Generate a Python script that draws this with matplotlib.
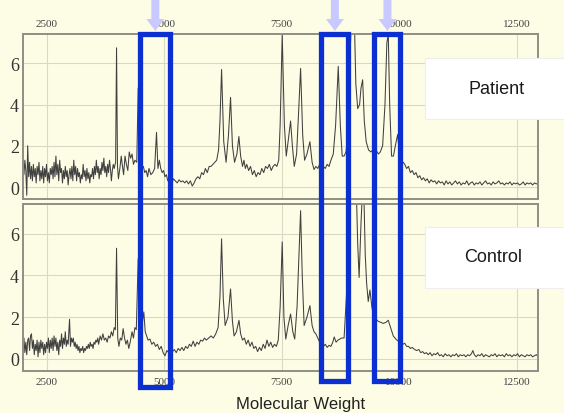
import matplotlib
matplotlib.use("Agg")
import matplotlib.pyplot as plt
from matplotlib.patches import Rectangle, Polygon
from matplotlib.transforms import blended_transform_factory

W, H = 564, 414
BG = "#fdfce5"
BLUE = "#0b2fd0"
ARROW = "#c8caff"

# (molecular weight, intensity)
patient = [
    (2000, 1.1), (2020, 0.6), (2040, 1.3), (2060, 0.8), (2080, -0.4), (2100, 2.0),
    (2120, 0.5), (2140, 1.2), (2160, 0.4), (2180, 1.0), (2200, 0.3), (2220, 1.1),
    (2240, 0.5), (2260, 0.9), (2280, 0.2), (2300, 1.0), (2320, 0.6), (2340, 1.2),
    (2360, 0.3), (2380, 0.8), (2400, 0.4), (2420, 1.0), (2440, 0.2), (2460, 0.9),
    (2480, 0.5), (2500, 1.1), (2520, 0.3), (2540, 0.7), (2560, 0.2), (2580, 0.9),
    (2600, 0.6), (2620, 1.0), (2640, 0.4), (2660, 1.2), (2680, 0.5), (2700, 1.5),
    (2720, 0.6), (2740, 1.1), (2760, 0.3), (2780, 1.3), (2800, 0.7), (2820, 0.9),
    (2840, 0.2), (2860, 0.8), (2880, 0.4), (2900, 1.0), (2920, 0.5), (2940, 0.8),
    (2960, 0.1), (2980, 0.6), (3000, 0.9), (3020, 0.4), (3040, 1.0), (3060, 0.3),
    (3080, 1.3), (3100, 0.6), (3120, 1.0), (3140, 0.3), (3160, 0.9), (3180, 0.5),
    (3200, 0.7), (3220, 0.2), (3240, 0.6), (3260, 0.4), (3280, 1.1), (3300, 0.5),
    (3320, 0.8), (3340, 0.3), (3360, 0.9), (3380, 0.4), (3400, 0.7), (3420, 0.2),
    (3440, 0.6), (3460, 0.5), (3480, 0.9), (3500, 0.4), (3520, 1.0), (3540, 0.6),
    (3560, 1.3), (3580, 0.7), (3600, 1.0), (3620, 0.4), (3640, 0.9), (3660, 0.6),
    (3680, 1.2), (3700, 0.8), (3720, 1.4), (3740, 0.7), (3760, 1.0), (3780, 0.5),
    (3800, 1.1), (3820, 0.7), (3840, 1.3), (3860, 0.9), (3880, 0.3), (3900, 0.8),
    (3920, 1.1), (3940, 0.9), (3970, 1.2), (3990, 6.75), (4010, 1.0), (4030, 0.4),
    (4060, 0.9), (4090, 1.5), (4110, 1.1), (4140, 0.6), (4170, 1.5), (4200, 1.1),
    (4230, 0.8), (4260, 1.7), (4290, 1.4), (4320, 1.6), (4350, 1.1), (4380, 1.3),
    (4420, 1.2), (4450, 4.8), (4475, 1.2), (4500, 1.1), (4530, 0.9), (4560, 1.0),
    (4590, 0.7), (4620, 0.8), (4650, 0.5), (4680, 0.9), (4720, 0.6), (4760, 0.7),
    (4800, 0.9), (4840, 2.65), (4870, 0.9), (4900, 1.3), (4930, 0.9), (4960, 0.7),
    (4990, 0.8), (5020, 0.5), (5050, 0.6), (5080, 0.3), (5110, 0.5), (5140, 0.4),
    (5170, 0.2), (5200, 0.4), (5240, 0.3), (5280, 0.2), (5320, 0.35), (5360, 0.25),
    (5400, 0.3), (5440, 0.2), (5480, 0.3), (5520, 0.15), (5560, 0.3), (5600, 0.05),
    (5640, 0.2), (5680, 0.4), (5720, 0.5), (5760, 0.4), (5800, 0.7), (5840, 0.6),
    (5880, 0.9), (5920, 0.7), (5960, 1.0), (6000, 1.0), (6040, 1.1), (6080, 1.2),
    (6120, 1.3), (6160, 1.8), (6190, 3.2), (6224, 5.7), (6270, 2.2), (6320, 1.2),
    (6370, 2.5), (6415, 4.35), (6455, 2.0), (6500, 1.2), (6550, 1.6), (6592, 2.45),
    (6630, 1.5), (6670, 1.0), (6700, 1.3), (6730, 0.9), (6760, 1.1), (6800, 0.8),
    (6840, 1.0), (6880, 0.6), (6920, 0.8), (6960, 0.5), (7000, 0.7), (7040, 0.6),
    (7080, 0.9), (7120, 0.7), (7160, 1.0), (7200, 0.9), (7240, 1.1), (7280, 0.8),
    (7320, 1.0), (7360, 1.1), (7400, 1.0), (7440, 1.3), (7470, 3.0), (7514, 7.4),
    (7560, 3.0), (7600, 1.5), (7650, 2.4), (7692, 3.2), (7730, 2.0), (7770, 1.0),
    (7820, 1.6), (7860, 3.5), (7905, 5.75), (7950, 2.5), (7990, 1.3), (8040, 1.6),
    (8103, 2.2), (8150, 1.2), (8190, 0.85), (8230, 1.0), (8270, 0.9), (8310, 1.1),
    (8350, 0.95), (8390, 1.0), (8430, 0.9), (8470, 1.1), (8510, 1.0), (8550, 1.3),
    (8600, 1.6), (8650, 3.0), (8706, 5.85), (8750, 3.0), (8790, 1.5), (8830, 1.5),
    (8870, 1.7), (8910, 2.5), (8950, 6.0), (9000, 9.0), (9040, 9.0), (9080, 5.0),
    (9120, 3.8), (9160, 4.0), (9190, 4.8), (9225, 5.2), (9260, 3.2), (9300, 2.2),
    (9350, 1.8), (9400, 1.7), (9440, 1.8), (9470, 1.6), (9520, 1.75), (9560, 1.6),
    (9600, 1.7), (9650, 2.0), (9700, 4.0), (9740, 7.0), (9770, 7.4), (9800, 4.0),
    (9840, 1.5), (9880, 1.5), (9920, 2.0), (9970, 2.55), (10010, 1.5), (10050, 1.1),
    (10090, 1.2), (10120, 1.1), (10160, 0.9), (10200, 1.0), (10240, 0.7), (10280, 0.8),
    (10320, 0.6), (10360, 0.7), (10400, 0.45), (10440, 0.55), (10480, 0.35), (10520, 0.45),
    (10560, 0.3), (10600, 0.4), (10640, 0.2), (10680, 0.35), (10720, 0.25), (10760, 0.3),
    (10800, 0.15), (10840, 0.3), (10880, 0.2), (10920, 0.25), (10960, 0.1), (11000, 0.3),
    (11040, 0.15), (11080, 0.25), (11120, 0.1), (11160, 0.2), (11200, 0.3), (11240, 0.15),
    (11280, 0.25), (11320, 0.1), (11360, 0.2), (11400, 0.15), (11440, 0.3), (11480, 0.1),
    (11520, 0.2), (11560, 0.25), (11600, 0.1), (11640, 0.2), (11680, 0.15), (11720, 0.25),
    (11760, 0.1), (11800, 0.2), (11840, 0.3), (11880, 0.15), (11920, 0.2), (11960, 0.1),
    (12000, 0.25), (12040, 0.15), (12080, 0.2), (12120, 0.3), (12160, 0.15), (12200, 0.2),
    (12240, 0.1), (12280, 0.2), (12320, 0.15), (12360, 0.25), (12400, 0.1), (12440, 0.2),
    (12480, 0.15), (12520, 0.2), (12560, 0.1), (12600, 0.15), (12640, 0.25), (12680, 0.1),
    (12720, 0.2), (12760, 0.15), (12800, 0.2), (12840, 0.1), (12880, 0.2), (12920, 0.15),
    (12960, 0.2),
]

control = [
    (2000, 0.6), (2020, 1.0), (2040, 0.3), (2060, 0.8), (2080, 0.2), (2100, 0.9),
    (2120, 1.0), (2140, 0.4), (2160, 1.1), (2180, 1.2), (2200, 0.5), (2220, 0.9),
    (2240, 0.2), (2260, 0.7), (2280, 0.4), (2300, 0.9), (2320, 0.1), (2340, 0.8),
    (2360, 0.3), (2380, 0.9), (2400, 0.5), (2420, 0.8), (2440, 0.2), (2460, 0.7),
    (2480, 0.3), (2500, 0.8), (2520, 0.5), (2540, 1.0), (2560, 0.3), (2580, 0.9),
    (2600, 0.5), (2620, 1.0), (2640, 0.4), (2660, 1.1), (2680, 0.6), (2700, 1.0),
    (2720, 0.4), (2740, 0.8), (2760, 0.2), (2780, 0.9), (2800, 0.6), (2820, 1.2),
    (2840, 0.5), (2860, 1.0), (2880, 0.7), (2900, 1.3), (2920, 0.6), (2940, 0.9),
    (2960, 0.7), (2990, 1.9), (3010, 0.6), (3030, 1.0), (3050, 0.8), (3070, 1.0),
    (3090, 0.6), (3110, 0.8), (3130, 0.5), (3150, 0.7), (3170, 0.4), (3190, 0.6),
    (3210, 0.3), (3230, 0.5), (3250, 0.4), (3270, 0.6), (3290, 0.3), (3310, 0.5),
    (3330, 0.4), (3350, 0.6), (3370, 0.5), (3390, 0.7), (3410, 0.5), (3430, 0.8),
    (3450, 0.6), (3470, 0.7), (3490, 0.5), (3510, 0.8), (3530, 0.7), (3550, 0.9),
    (3570, 0.8), (3590, 1.0), (3610, 0.7), (3640, 1.1), (3670, 0.9), (3700, 1.2),
    (3730, 0.9), (3760, 1.0), (3790, 0.8), (3820, 1.1), (3850, 1.0), (3880, 1.3),
    (3910, 1.1), (3940, 1.5), (3965, 1.4), (3990, 5.3), (4015, 1.0), (4040, 0.6),
    (4070, 1.0), (4100, 0.9), (4130, 1.45), (4160, 1.0), (4190, 0.7), (4220, 0.9),
    (4250, 0.5), (4280, 0.8), (4320, 1.3), (4350, 1.0), (4380, 1.5), (4410, 1.4),
    (4450, 4.8), (4480, 1.6), (4520, 1.4), (4570, 2.25), (4600, 1.3), (4630, 1.1),
    (4660, 0.9), (4700, 0.95), (4740, 0.7), (4780, 0.8), (4820, 0.6), (4860, 0.7),
    (4900, 0.45), (4940, 0.6), (4980, 0.3), (5020, 0.15), (5060, 0.4), (5100, 0.3),
    (5140, 0.5), (5180, 0.35), (5220, 0.45), (5260, 0.3), (5300, 0.5), (5340, 0.4),
    (5380, 0.55), (5420, 0.4), (5460, 0.6), (5500, 0.5), (5540, 0.7), (5580, 0.6),
    (5620, 0.85), (5660, 0.6), (5700, 0.8), (5740, 0.7), (5780, 0.9), (5820, 0.85),
    (5860, 1.0), (5900, 0.9), (5950, 1.0), (6000, 1.1), (6050, 1.0), (6100, 1.2),
    (6150, 1.5), (6190, 3.0), (6224, 5.75), (6260, 2.9), (6300, 1.6), (6360, 2.0),
    (6415, 3.35), (6455, 1.8), (6490, 1.1), (6540, 1.3), (6594, 1.85), (6630, 1.2),
    (6670, 0.9), (6710, 1.0), (6750, 0.7), (6790, 0.9), (6830, 0.6), (6870, 0.8),
    (6910, 0.5), (6950, 0.6), (6990, 0.35), (7030, 0.55), (7070, 0.4), (7110, 0.7),
    (7150, 0.5), (7190, 0.9), (7230, 0.6), (7270, 0.8), (7310, 0.55), (7350, 0.7),
    (7390, 0.6), (7430, 0.9), (7470, 2.5), (7514, 5.6), (7550, 2.0), (7590, 0.95),
    (7640, 1.6), (7692, 2.15), (7740, 1.3), (7780, 0.95), (7830, 2.5), (7870, 5.0),
    (7905, 7.1), (7940, 4.0), (7980, 1.6), (8040, 2.0), (8103, 2.55), (8150, 1.6),
    (8190, 1.3), (8230, 1.2), (8270, 1.0), (8310, 0.8), (8350, 0.65), (8390, 0.6),
    (8430, 0.7), (8470, 0.55), (8510, 0.65), (8550, 0.6), (8590, 0.8), (8620, 1.05),
    (8660, 0.8), (8700, 0.9), (8740, 0.95), (8780, 1.0), (8830, 1.0), (8880, 3.0),
    (8930, 6.0), (8980, 8.5), (9080, 9.0), (9120, 5.5), (9150, 3.9), (9190, 6.5),
    (9240, 9.0), (9280, 5.0), (9310, 3.6), (9344, 2.75), (9380, 3.3), (9420, 2.5),
    (9460, 2.0), (9510, 1.9), (9557, 1.8), (9610, 1.75), (9663, 1.7), (9720, 1.75),
    (9770, 1.85), (9820, 1.5), (9876, 1.1), (9930, 0.95), (9982, 0.85), (10030, 0.8),
    (10080, 0.7), (10120, 0.75), (10160, 0.6), (10200, 0.6), (10240, 0.5), (10280, 0.55),
    (10330, 0.45), (10373, 0.4), (10420, 0.45), (10460, 0.3), (10500, 0.35), (10540, 0.25),
    (10580, 0.3), (10620, 0.2), (10660, 0.3), (10700, 0.15), (10740, 0.25), (10780, 0.2),
    (10820, 0.3), (10860, 0.15), (10900, 0.2), (10940, 0.1), (10980, 0.25), (11020, 0.15),
    (11060, 0.2), (11100, 0.1), (11140, 0.2), (11180, 0.15), (11220, 0.25), (11260, 0.1),
    (11300, 0.2), (11340, 0.15), (11380, 0.2), (11420, 0.1), (11460, 0.2), (11500, 0.15),
    (11540, 0.25), (11570, 0.4), (11600, 0.2), (11640, 0.1), (11680, 0.2), (11720, 0.15),
    (11760, 0.25), (11800, 0.1), (11840, 0.2), (11880, 0.15), (11920, 0.1), (11960, 0.2),
    (12000, 0.15), (12040, 0.25), (12080, 0.1), (12120, 0.2), (12160, 0.15), (12200, 0.2),
    (12240, 0.1), (12280, 0.25), (12320, 0.15), (12360, 0.2), (12400, 0.1), (12440, 0.2),
    (12480, 0.15), (12520, 0.25), (12560, 0.1), (12600, 0.2), (12640, 0.15), (12680, 0.1),
    (12720, 0.2), (12760, 0.15), (12800, 0.2), (12840, 0.1), (12880, 0.15), (12920, 0.2),
    (12960, 0.1),
]

x_ticks = [2500, 5000, 7500, 10000, 12500]
y_ticks = [0, 2, 4, 6]
# molecular weight windows marked with blue boxes / arrows
highlight = [(4496, 5134), (8348, 8922), (9476, 10029)]

fig = plt.figure(figsize=(W / 100, H / 100), dpi=100, facecolor=BG)
ax_top = fig.add_axes([23 / W, 1 - 200 / H, 515 / W, 165 / H])
ax_bot = fig.add_axes([23 / W, 1 - 372 / H, 515 / W, 167 / H])

for ax, data in [(ax_top, patient), (ax_bot, control)]:
    mw, inten = zip(*data)
    ax.set_facecolor(BG)
    ax.plot(mw, inten, color="#404040", lw=0.75)
    ax.set_xlim(2000, 12955)
    ax.set_ylim(-0.58, 7.42)
    ax.set_xticks(x_ticks)
    ax.set_yticks(y_ticks)
    ax.set_xticklabels([str(t) for t in x_ticks], family="Liberation Serif", fontsize=8, color="#444444")
    ax.set_yticklabels([str(t) for t in y_ticks], family="Liberation Serif", fontsize=13, color="#333333")
    ax.tick_params(length=0)
    ax.tick_params(axis="x", pad=4)
    ax.tick_params(axis="y", pad=3)
    ax.grid(True, color="#d9d8c2", lw=0.8)
    ax.set_axisbelow(True)
    for sp in ax.spines.values():
        sp.set_color("#8f8f85")
        sp.set_linewidth(1.4)

ax_top.xaxis.tick_top()

# highlight boxes and arrows (x in data, y in figure fraction)
tr = blended_transform_factory(ax_bot.transData, fig.transFigure)
box_bottoms = [1 - 387.5 / H, 1 - 381.5 / H, 1 - 381.5 / H]
box_top = 1 - 34.5 / H
mw_per_px = (12955 - 2000) / 515
for (m0, m1), yb in zip(highlight, box_bottoms):
    fig.add_artist(Rectangle((m0, yb), m1 - m0, box_top - yb, transform=tr,
                             fill=False, ec=BLUE, lw=3.8, zorder=5))
    c = (m0 + m1) / 2
    sw, hw = 4 * mw_per_px, 9 * mw_per_px
    y_tip, y_head = 1 - 32 / H, 1 - 20 / H
    pts = [(c - sw, 1.0), (c + sw, 1.0), (c + sw, y_head), (c + hw, y_head),
           (c, y_tip), (c - hw, y_head), (c - sw, y_head)]
    fig.add_artist(Polygon(pts, closed=True, transform=tr, fc=ARROW, ec="none", zorder=6))

# panel name boxes
for label, y0, y1, tx, ty in [("Patient", 59, 120, 497, 90), ("Control", 228, 289, 493, 258)]:
    fig.add_artist(Rectangle((425 / W, 1 - y1 / H), 140 / W, (y1 - y0) / H,
                             transform=fig.transFigure, fc="white", ec="#eeeeee", lw=0.8, zorder=4))
    fig.text(tx / W, 1 - ty / H, label, ha="center", va="center", fontsize=13,
             family="Liberation Sans", color="#1a1a1a", zorder=7)

fig.text(301 / W, 1 - 405 / H, "Molecular Weight", ha="center", va="center",
         fontsize=12, family="Liberation Sans", color="#222222")

fig.savefig("out.png", dpi=100, facecolor=BG)
